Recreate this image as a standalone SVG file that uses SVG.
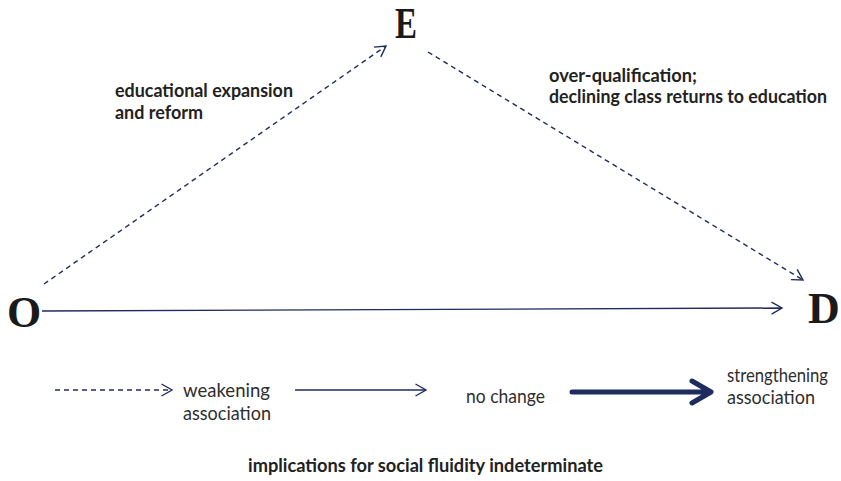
<svg xmlns="http://www.w3.org/2000/svg" width="841" height="481" viewBox="0 0 841 481">
<defs>
<style>
.node{font-family:"Liberation Serif","Times New Roman",serif;font-weight:bold;font-size:44px;fill:#1a1a1a}
.lbl{font-family:Lato,"Open Sans",sans-serif;font-weight:bold;font-size:18px;fill:#222222}
.leg{font-family:Lato,"Open Sans",sans-serif;font-size:19px;fill:#2e2e2e}
.conn{fill:none;stroke:#1f2b5e;stroke-width:1.4}
.dash{stroke-dasharray:5,4}
</style>
<marker id="open" markerUnits="userSpaceOnUse" markerWidth="16" markerHeight="16" viewBox="-13 -8 16 16" refX="0" refY="0" orient="auto">
<path d="M-10.5,-6 L0,0 L-10.5,6" fill="none" stroke="#1f2b5e" stroke-width="1.4"/>
</marker>
</defs>
<rect width="841" height="481" fill="#ffffff"/>
<g id="connectors">
<line class="conn dash" x1="44" y1="284" x2="386" y2="46" marker-end="url(#open)"/>
<line class="conn dash" x1="428" y1="52" x2="803" y2="280" marker-end="url(#open)"/>
<line class="conn" x1="42" y1="311" x2="782" y2="308" marker-end="url(#open)"/>
</g>
<g id="node-E"><text class="node" x="395" y="38" textLength="22" lengthAdjust="spacingAndGlyphs">E</text></g>
<g id="node-O"><text class="node" x="7" y="327">O</text></g>
<g id="node-D"><text class="node" x="808" y="323">D</text></g>
<g id="label-OE">
<text class="lbl" x="115" y="97" textLength="178" lengthAdjust="spacingAndGlyphs">educational expansion</text>
<text class="lbl" x="115" y="119" textLength="88" lengthAdjust="spacingAndGlyphs">and reform</text>
</g>
<g id="label-ED">
<text class="lbl" x="549" y="82" textLength="148" lengthAdjust="spacingAndGlyphs">over-qualification;</text>
<text class="lbl" x="549" y="103" textLength="278" lengthAdjust="spacingAndGlyphs">declining class returns to education</text>
</g>
<g id="legend">
<line class="conn dash" x1="55" y1="390" x2="172" y2="390" marker-end="url(#open)"/>
<text class="leg" x="183" y="397" textLength="87" lengthAdjust="spacingAndGlyphs">weakening</text>
<text class="leg" x="183" y="420" textLength="88" lengthAdjust="spacingAndGlyphs">association</text>
<line class="conn" x1="295" y1="390" x2="426" y2="390" marker-end="url(#open)"/>
<text class="leg" x="466" y="403" textLength="79" lengthAdjust="spacingAndGlyphs">no change</text>
<path d="M572,392 L709,392 M692,381 L711,392 L692,403" fill="none" stroke="#1f2b5e" stroke-width="5" stroke-linejoin="round" stroke-linecap="round"/>
<text class="leg" x="727" y="382" textLength="101" lengthAdjust="spacingAndGlyphs">strengthening</text>
<text class="leg" x="727" y="404" textLength="88" lengthAdjust="spacingAndGlyphs">association</text>
</g>
<g id="caption">
<text class="lbl" x="248" y="472" textLength="355" lengthAdjust="spacingAndGlyphs">implications for social fluidity indeterminate</text>
</g>
</svg>
